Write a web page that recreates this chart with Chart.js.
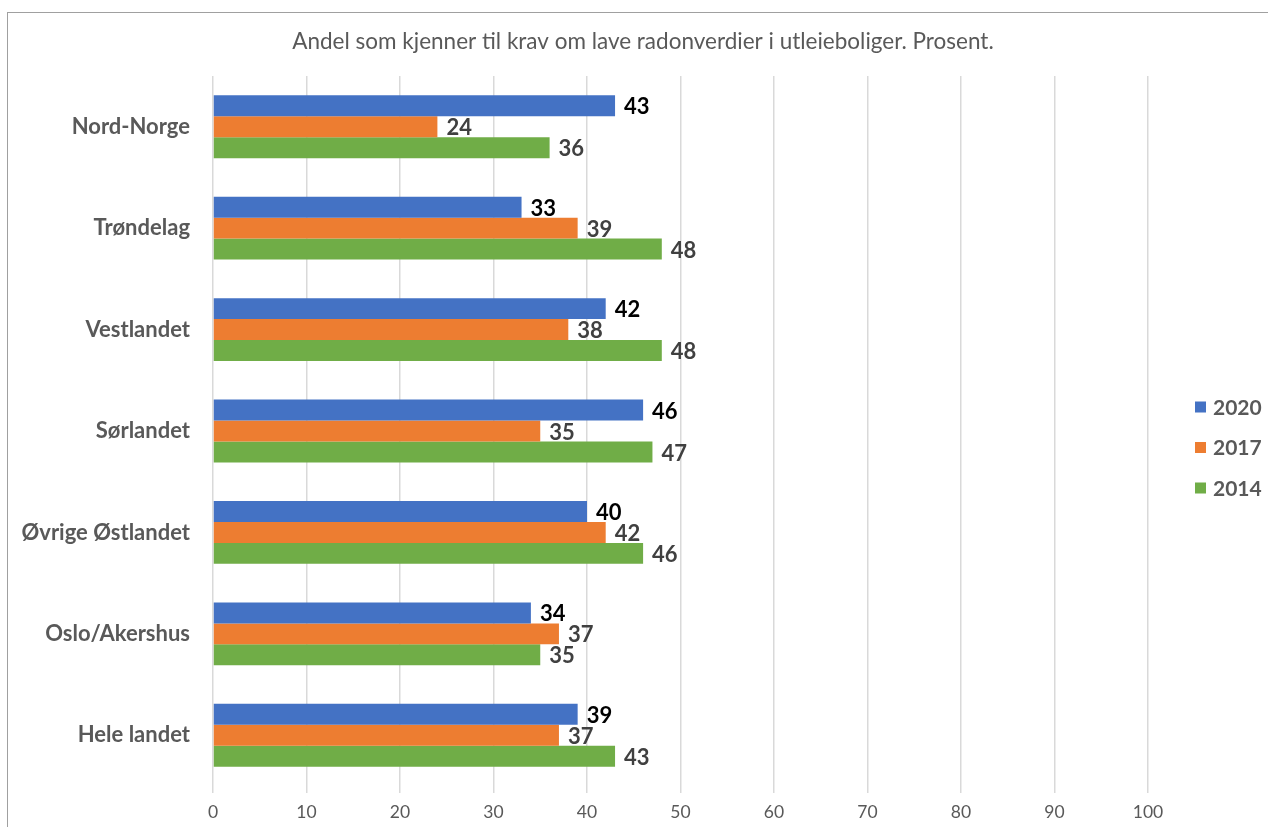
<!DOCTYPE html>
<html>
<head>
<meta charset="utf-8">
<script src="https://cdn.jsdelivr.net/npm/chart.js@4/dist/chart.umd.min.js"></script>
<style>
    body { margin: 0; background: #fff; overflow: hidden; }
    #wrap { position: relative; width: 1268px; height: 827px; }
    #frame {
        position: absolute; left: 7px; top: 12px; width: 1300px; height: 900px;
        border: 1px solid #a0a0a0; box-sizing: border-box;
    }
    canvas { position: absolute; left: 0; top: 0; }
</style>
</head>
<body>
<div id="wrap">
    <div id="frame"></div>
    <canvas id="radonChart" width="1268" height="827"></canvas>
</div>
<script>
const FONT = "Lato, 'Open Sans', sans-serif";

const chartTitle = "Andel som kjenner til krav om lave radonverdier i utleieboliger. Prosent.";
const regions = ["Nord-Norge", "Trøndelag", "Vestlandet", "Sørlandet", "Øvrige Østlandet", "Oslo/Akershus", "Hele landet"];
const years = ["2020", "2017", "2014"];
const values2020 = [43, 33, 42, 46, 40, 34, 39];
const values2017 = [24, 39, 38, 35, 42, 37, 37];
const values2014 = [36, 48, 48, 47, 46, 35, 43];
const colors = ["#4472c4", "#ed7d31", "#70ad47"];
const labelColors = ["#000000", "#404040", "#404040"];

// title centred over the whole frame, not just the plot
const frameTitle = {
    id: "frameTitle",
    afterDraw(chart) {
        const ctx = chart.ctx;
        ctx.save();
        ctx.font = "22.5px " + FONT;
        ctx.fillStyle = "#595959";
        ctx.textAlign = "center";
        ctx.textBaseline = "middle";
        ctx.fillText(chartTitle, 643, 42);
        ctx.restore();
    }
};

// value labels just past the end of each bar
const barLabels = {
    id: "barLabels",
    afterDatasetsDraw(chart) {
        const ctx = chart.ctx;
        ctx.save();
        ctx.font = "bold 22px " + FONT;
        ctx.textBaseline = "middle";
        ctx.textAlign = "left";
        chart.data.datasets.forEach((ds, i) => {
            chart.getDatasetMeta(i).data.forEach((bar, j) => {
                ctx.fillStyle = labelColors[i];
                ctx.fillText(ds.data[j], bar.x + 9, bar.y + 1.5);
            });
        });
        ctx.restore();
    }
};

// legend on the right
const sideLegend = {
    id: "sideLegend",
    afterDraw(chart) {
        const ctx = chart.ctx;
        ctx.save();
        ctx.font = "bold 21px " + FONT;
        ctx.textBaseline = "middle";
        chart.data.datasets.forEach((ds, i) => {
            const y = 407 + i * 40.5;
            ctx.fillStyle = ds.backgroundColor;
            ctx.fillRect(1195, y - 5.5, 11, 11);
            ctx.fillStyle = "#595959";
            ctx.fillText(ds.label, 1213, y + 1);
        });
        ctx.restore();
    }
};

new Chart(document.getElementById("radonChart"), {
    type: "bar",
    data: {
        labels: regions,
        datasets: [
            { label: years[0], data: values2020, backgroundColor: colors[0] },
            { label: years[1], data: values2017, backgroundColor: colors[1] },
            { label: years[2], data: values2014, backgroundColor: colors[2] }
        ]
    },
    options: {
        indexAxis: "y",
        responsive: false,
        animation: false,
        categoryPercentage: 0.62,
        barPercentage: 1,
        layout: { padding: { left: 0, right: 120, top: 76, bottom: 0 } },
        plugins: {
            legend: { display: false },
            tooltip: { enabled: false },
            title: { display: false }
        },
        scales: {
            x: {
                min: 0,
                max: 100,
                ticks: { stepSize: 10, color: "#595959", font: { family: FONT, size: 17.5 }, padding: 9 },
                grid: { color: "#d9d9d9", lineWidth: 1.5, tickLength: 7 },
                border: { display: false },
                afterFit(scale) { scale.height = 827 - 786; }
            },
            y: {
                ticks: { color: "#595959", font: { family: FONT, size: 22, weight: "bold" }, padding: 23 },
                grid: { display: false, drawTicks: false },
                border: { display: false },
                afterFit(scale) { scale.width = 213; }
            }
        }
    },
    plugins: [barLabels, sideLegend, frameTitle]
});
</script>
</body>
</html>
